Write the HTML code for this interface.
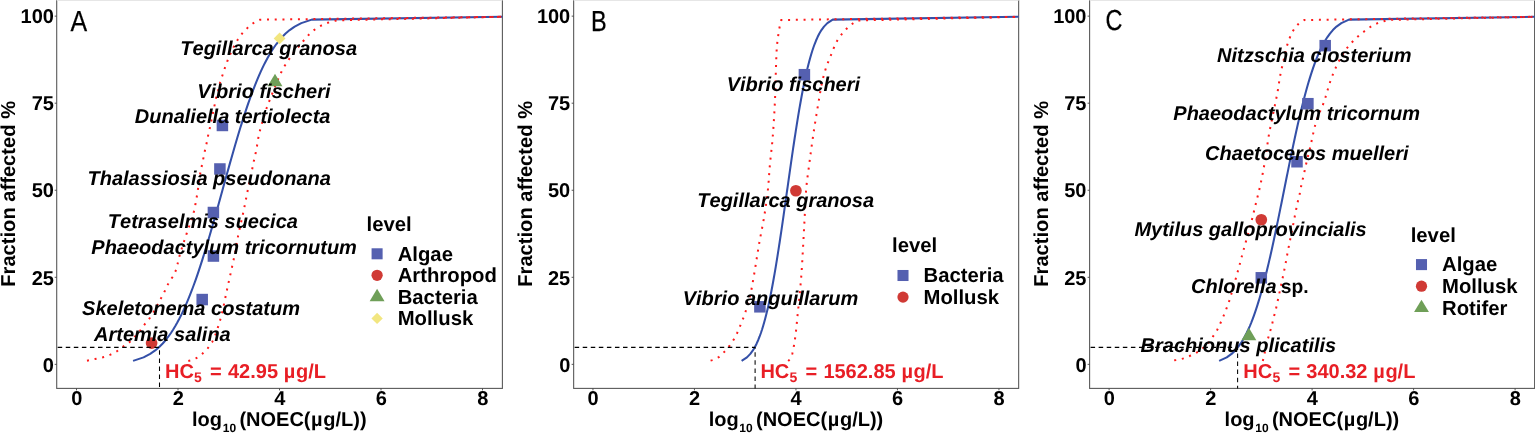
<!DOCTYPE html>
<html lang="en"><head><meta charset="utf-8"><title>Species sensitivity distributions</title>
<style>
html,body{margin:0;padding:0;background:#fff;}
body{width:1535px;height:434px;overflow:hidden;}
svg{display:block;font-family:"Liberation Sans", sans-serif;font-kerning:none;font-variant-ligatures:none;text-rendering:geometricPrecision;}
.b{font-weight:bold;font-size:20px;fill:#000;}
.bi{font-weight:bold;font-style:italic;font-size:20px;fill:#000;}
.lg{font-weight:bold;font-size:20.3px;fill:#000;}
.tk{font-weight:bold;font-size:20px;fill:#000;}
.hc{font-weight:bold;font-size:20px;fill:#E81E25;}
.lt{font-size:29px;fill:#000;stroke:#000;stroke-width:0.25px;}
</style></head><body>
<svg width="1535" height="434" viewBox="0 0 1535 434" role="img" aria-label="Species sensitivity distribution curves, panels A, B and C">
<rect width="1535" height="434" fill="#fff"/>
<g>
<rect x="56.70" y="-1" width="445.70" height="389.40" fill="#fff" stroke="#5a5a5a" stroke-width="1.1"/>
<line x1="56.70" y1="0.5" x2="502.40" y2="0.5" stroke="#e6e6e6" stroke-width="1"/>
<line x1="54.70" y1="364.35" x2="56.70" y2="364.35" stroke="#444" stroke-width="0.9"/>
<text class="tk" x="53.90" y="371.55" text-anchor="end">0</text>
<line x1="54.70" y1="277.30" x2="56.70" y2="277.30" stroke="#444" stroke-width="0.9"/>
<text class="tk" x="53.90" y="284.50" text-anchor="end">25</text>
<line x1="54.70" y1="190.25" x2="56.70" y2="190.25" stroke="#444" stroke-width="0.9"/>
<text class="tk" x="53.90" y="197.45" text-anchor="end">50</text>
<line x1="54.70" y1="103.20" x2="56.70" y2="103.20" stroke="#444" stroke-width="0.9"/>
<text class="tk" x="53.90" y="110.40" text-anchor="end">75</text>
<line x1="54.70" y1="16.15" x2="56.70" y2="16.15" stroke="#444" stroke-width="0.9"/>
<text class="tk" x="53.90" y="23.35" text-anchor="end">100</text>
<line x1="76.50" y1="388.4" x2="76.50" y2="390.4" stroke="#444" stroke-width="0.9"/>
<text class="tk" x="76.70" y="404.90" text-anchor="middle">0</text>
<line x1="178.00" y1="388.4" x2="178.00" y2="390.4" stroke="#444" stroke-width="0.9"/>
<text class="tk" x="178.20" y="404.90" text-anchor="middle">2</text>
<line x1="279.50" y1="388.4" x2="279.50" y2="390.4" stroke="#444" stroke-width="0.9"/>
<text class="tk" x="279.70" y="404.90" text-anchor="middle">4</text>
<line x1="381.00" y1="388.4" x2="381.00" y2="390.4" stroke="#444" stroke-width="0.9"/>
<text class="tk" x="381.20" y="404.90" text-anchor="middle">6</text>
<line x1="482.50" y1="388.4" x2="482.50" y2="390.4" stroke="#444" stroke-width="0.9"/>
<text class="tk" x="482.70" y="404.90" text-anchor="middle">8</text>
<text class="b" x="192.05" y="425.7">log<tspan font-size="12px" dy="6.2" dx="0.7">10</tspan><tspan dy="-6.2" dx="3.3">(NOEC(</tspan><tspan dx="0.6">µ</tspan><tspan dx="0.7">g/L))</tspan></text>
<text class="b" style="font-size:20.15px" transform="translate(14.70,193.85) rotate(-90)" text-anchor="middle">Fraction affected %</text>
<path d="M133.07,360.87 L143.55,357.39 L150.19,353.90 L155.19,350.42 L159.25,346.94 L162.71,343.46 L165.74,339.98 L168.46,336.49 L170.93,333.01 L173.21,329.53 L175.32,326.05 L177.30,322.57 L179.17,319.08 L180.93,315.60 L182.62,312.12 L184.23,308.64 L185.78,305.16 L187.27,301.67 L188.71,298.19 L190.10,294.71 L191.46,291.23 L192.77,287.75 L194.05,284.26 L195.30,280.78 L196.52,277.30 L197.72,273.82 L198.89,270.34 L200.04,266.85 L201.17,263.37 L202.29,259.89 L203.38,256.41 L204.47,252.93 L205.53,249.44 L206.59,245.96 L207.63,242.48 L208.66,239.00 L209.68,235.52 L210.70,232.03 L211.70,228.55 L212.70,225.07 L213.69,221.59 L214.68,218.11 L215.66,214.62 L216.63,211.14 L217.60,207.66 L218.57,204.18 L219.54,200.70 L220.50,197.21 L221.47,193.73 L222.43,190.25 L223.39,186.77 L224.36,183.29 L225.32,179.80 L226.29,176.32 L227.26,172.84 L228.23,169.36 L229.20,165.88 L230.18,162.39 L231.17,158.91 L232.16,155.43 L233.16,151.95 L234.16,148.47 L235.18,144.98 L236.20,141.50 L237.23,138.02 L238.27,134.54 L239.33,131.06 L240.39,127.57 L241.48,124.09 L242.57,120.61 L243.69,117.13 L244.82,113.65 L245.97,110.16 L247.14,106.68 L248.34,103.20 L249.56,99.72 L250.81,96.24 L252.09,92.75 L253.40,89.27 L254.76,85.79 L256.15,82.31 L257.59,78.83 L259.08,75.34 L260.63,71.86 L262.24,68.38 L263.93,64.90 L265.69,61.42 L267.56,57.93 L269.54,54.45 L271.65,50.97 L273.93,47.49 L276.40,44.01 L279.12,40.52 L282.15,37.04 L285.61,33.56 L289.67,30.08 L294.67,26.60 L301.31,23.11 L311.79,19.63 L502.40,16.80" fill="none" stroke="#3450A8" stroke-width="2.05" stroke-linejoin="round" stroke-linecap="butt"/>
<path d="M87.00,360.70 L88.98,360.28 L90.96,359.87 L92.95,359.45 L94.93,359.03 L96.92,358.64 L98.91,358.24 L100.89,357.82 L102.84,357.33 L104.79,356.75 L106.71,356.10 L108.61,355.39 L110.48,354.63 L112.32,353.78 L114.14,352.85 L115.90,351.86 L117.60,350.78 L119.22,349.58 L120.82,348.32 L122.44,347.09 L124.11,345.94 L125.82,344.83 L127.51,343.70 L129.11,342.49 L130.61,341.15 L132.04,339.71 L133.44,338.23 L134.82,336.75 L136.21,335.27 L137.58,333.77 L138.90,332.24 L140.15,330.65 L141.32,329.00 L142.45,327.32 L143.61,325.66 L144.85,324.05 L146.16,322.51 L147.48,320.97 L148.76,319.40 L149.93,317.76 L151.05,316.07 L152.12,314.34 L153.17,312.61 L154.21,310.87 L155.23,309.12 L156.22,307.35 L157.20,305.58 L158.16,303.80 L159.09,302.00 L160.02,300.20 L160.95,298.40 L161.90,296.61 L162.85,294.82 L163.78,293.02 L164.69,291.21 L165.54,289.38 L166.38,287.53 L167.25,285.70 L168.18,283.91 L169.22,282.15 L170.31,280.42 L171.43,278.69 L172.53,276.97 L173.58,275.23 L174.53,273.46 L175.35,271.65 L176.02,269.78 L176.60,267.87 L177.11,265.92 L177.58,263.94 L178.04,261.95 L178.49,259.95 L178.97,257.97 L179.50,256.01 L180.06,254.06 L180.64,252.12 L181.24,250.19 L181.85,248.26 L182.46,246.33 L183.09,244.40 L183.72,242.48 L184.36,240.55 L184.99,238.63 L185.62,236.70 L186.25,234.78 L186.88,232.85 L187.53,230.93 L188.19,229.01 L188.87,227.10 L189.56,225.18 L190.24,223.27 L190.91,221.35 L191.56,219.43 L192.19,217.50 L192.78,215.57 L193.33,213.63 L193.84,211.68 L194.29,209.72 L194.72,207.75 L195.13,205.77 L195.51,203.79 L195.88,201.79 L196.24,199.79 L196.58,197.79 L196.91,195.79 L197.24,193.79 L197.56,191.78 L197.88,189.78 L198.19,187.78 L198.48,185.78 L198.75,183.77 L199.02,181.76 L199.29,179.75 L199.57,177.74 L199.87,175.74 L200.19,173.75 L200.57,171.76 L200.98,169.77 L201.41,167.79 L201.82,165.81 L202.23,163.83 L202.64,161.84 L203.04,159.86 L203.45,157.87 L203.84,155.89 L204.23,153.90 L204.63,151.91 L205.06,149.94 L205.52,147.96 L205.99,145.99 L206.44,144.02 L206.86,142.04 L207.24,140.05 L207.61,138.06 L208.00,136.07 L208.42,134.09 L208.87,132.11 L209.32,130.14 L209.76,128.16 L210.19,126.18 L210.62,124.20 L211.04,122.22 L211.46,120.24 L211.87,118.26 L212.29,116.28 L212.70,114.29 L213.11,112.31 L213.52,110.33 L213.93,108.34 L214.34,106.36 L214.75,104.38 L215.14,102.39 L215.53,100.40 L215.96,98.42 L216.44,96.46 L216.98,94.51 L217.56,92.56 L218.11,90.61 L218.61,88.65 L219.07,86.68 L219.53,84.71 L220.03,82.75 L220.61,80.81 L221.24,78.88 L221.90,76.97 L222.55,75.05 L223.18,73.12 L223.80,71.19 L224.44,69.27 L225.09,67.35 L225.76,65.44 L226.44,63.53 L227.15,61.64 L227.90,59.76 L228.67,57.89 L229.48,56.03 L230.30,54.17 L231.13,52.33 L231.97,50.48 L232.83,48.65 L233.73,46.83 L234.67,45.04 L235.64,43.26 L236.65,41.50 L237.71,39.78 L238.82,38.09 L239.97,36.42 L241.18,34.78 L242.44,33.21 L243.77,31.68 L245.16,30.20 L246.59,28.76 L248.07,27.38 L249.58,26.02 L251.14,24.71 L252.76,23.49 L254.44,22.41 L256.20,21.42 L258.02,20.51 L259.90,19.70 L502.40,16.80" fill="none" stroke="#FF1A1A" stroke-width="2.0" stroke-linecap="butt" stroke-dasharray="2.0 5.74"/>
<path d="M188.30,361.00 L190.25,360.53 L192.14,359.94 L193.95,359.25 L195.69,358.47 L197.37,357.52 L199.01,356.43 L200.60,355.21 L202.13,353.92 L203.58,352.59 L204.96,351.25 L206.31,349.84 L207.63,348.36 L208.90,346.82 L210.10,345.23 L211.21,343.60 L212.20,341.94 L213.09,340.25 L213.90,338.51 L214.66,336.71 L215.37,334.88 L216.05,333.01 L216.69,331.14 L217.31,329.25 L217.92,327.38 L218.51,325.52 L219.10,323.65 L219.66,321.78 L220.20,319.89 L220.73,318.00 L221.24,316.11 L221.73,314.21 L222.20,312.31 L222.66,310.41 L223.09,308.51 L223.51,306.60 L223.91,304.68 L224.31,302.76 L224.69,300.84 L225.08,298.92 L225.47,297.00 L225.86,295.08 L226.26,293.17 L226.68,291.25 L227.10,289.34 L227.52,287.43 L227.94,285.52 L228.36,283.60 L228.79,281.69 L229.21,279.78 L229.64,277.87 L230.06,275.96 L230.48,274.05 L230.90,272.14 L231.32,270.22 L231.75,268.31 L232.17,266.40 L232.60,264.49 L233.02,262.58 L233.43,260.66 L233.83,258.75 L234.23,256.83 L234.62,254.91 L234.99,252.99 L235.35,251.07 L235.70,249.14 L236.05,247.21 L236.40,245.29 L236.74,243.36 L237.09,241.43 L237.44,239.51 L237.80,237.58 L238.17,235.66 L238.55,233.74 L238.95,231.82 L239.36,229.91 L239.78,228.00 L240.21,226.09 L240.64,224.18 L241.08,222.27 L241.52,220.36 L241.95,218.45 L242.39,216.54 L242.81,214.63 L243.23,212.72 L243.64,210.81 L244.04,208.89 L244.43,206.97 L244.82,205.05 L245.20,203.13 L245.58,201.21 L245.95,199.29 L246.33,197.37 L246.71,195.45 L247.09,193.53 L247.47,191.61 L247.86,189.69 L248.25,187.77 L248.65,185.85 L249.05,183.94 L249.46,182.02 L249.86,180.11 L250.27,178.19 L250.68,176.28 L251.09,174.36 L251.49,172.45 L251.90,170.53 L252.30,168.62 L252.70,166.70 L253.09,164.78 L253.48,162.86 L253.87,160.95 L254.28,159.03 L254.72,157.12 L255.18,155.22 L255.62,153.31 L256.02,151.40 L256.38,149.47 L256.73,147.55 L257.06,145.62 L257.39,143.69 L257.69,141.75 L257.99,139.81 L258.31,137.88 L258.67,135.96 L259.09,134.05 L259.56,132.15 L260.06,130.25 L260.56,128.36 L261.07,126.47 L261.60,124.59 L262.12,122.70 L262.66,120.82 L263.22,118.94 L263.78,117.06 L264.35,115.18 L264.94,113.31 L265.53,111.45 L266.15,109.59 L266.77,107.74 L267.42,105.89 L268.10,104.06 L268.82,102.24 L269.55,100.42 L270.27,98.60 L270.99,96.78 L271.70,94.95 L272.42,93.13 L273.14,91.31 L273.86,89.49 L274.58,87.67 L275.32,85.85 L276.06,84.04 L276.81,82.23 L277.57,80.43 L278.35,78.63 L279.14,76.85 L279.94,75.06 L280.77,73.29 L281.63,71.53 L282.52,69.78 L283.44,68.06 L284.40,66.35 L285.40,64.66 L286.43,63.00 L287.52,61.37 L288.64,59.76 L289.78,58.17 L290.94,56.60 L292.11,55.03 L293.29,53.47 L294.48,51.92 L295.69,50.37 L296.90,48.83 L298.13,47.30 L299.36,45.78 L300.61,44.27 L301.86,42.76 L303.12,41.26 L304.38,39.77 L305.65,38.28 L306.92,36.78 L308.23,35.31 L309.58,33.91 L311.00,32.58 L312.49,31.30 L314.04,30.08 L315.62,28.93 L317.25,27.85 L318.92,26.83 L320.64,25.87 L322.39,25.00 L324.17,24.21 L325.99,23.47 L327.84,22.80 L329.70,22.19 L331.57,21.64 L333.47,21.14 L335.37,20.69 L337.30,20.30 L502.40,16.80" fill="none" stroke="#FF1A1A" stroke-width="2.0" stroke-linecap="butt" stroke-dasharray="2.0 5.74"/>
<rect x="216.65" y="119.71" width="11.50" height="11.50" fill="#5560B0"/>
<rect x="214.15" y="163.24" width="11.50" height="11.50" fill="#5560B0"/>
<rect x="207.65" y="206.76" width="11.50" height="11.50" fill="#5560B0"/>
<rect x="207.65" y="250.29" width="11.50" height="11.50" fill="#5560B0"/>
<rect x="196.45" y="293.81" width="11.50" height="11.50" fill="#5560B0"/>
<circle cx="151.60" cy="343.09" r="5.85" fill="#D03A35"/>
<polygon points="275.00,73.84 282.45,86.24 267.55,86.24" fill="#6F9F58"/>
<polygon points="279.60,32.51 285.50,38.41 279.60,44.31 273.70,38.41" fill="#F2E680"/>
<text class="bi" x="180.30" y="54.85">Tegillarca granosa</text>
<text class="bi" x="197.20" y="98.10">Vibrio fischeri</text>
<text class="bi" x="134.80" y="123.30">Dunaliella tertiolecta</text>
<text class="bi" x="87.50" y="184.90">Thalassiosia pseudonana</text>
<text class="bi" x="107.80" y="228.30">Tetraselmis suecica</text>
<text class="bi" x="91.30" y="253.60">Phaeodactylum tricornutum</text>
<text class="bi" x="82.10" y="315.30">Skeletonema costatum</text>
<text class="bi" x="94.00" y="341.00">Artemia salina</text>
<path d="M56.70,347.35 L159.50,347.35 L159.50,388.4" fill="none" stroke="#000" stroke-width="1.05" stroke-dasharray="4.5 3.56" stroke-dashoffset="-1"/>
<text class="hc" x="165.00" y="378.1" xml:space="preserve">HC<tspan font-size="14px" dy="3.6" dx="0.2">5</tspan><tspan dy="-3.6" dx="8.2">=</tspan><tspan dx="6.2">42.95</tspan><tspan dx="5.8">µ</tspan><tspan dx="0.6">g/L</tspan></text>
<text class="lt" transform="translate(70.60,30.5) scale(0.86,1)">A</text>
<text class="lg" x="366.50" y="231.30">level</text>
<rect x="371.58" y="248.28" width="11.04" height="11.04" fill="#5560B0"/>
<text class="lg" x="397.70" y="260.60">Algae</text>
<circle cx="377.10" cy="275.30" r="5.62" fill="#D03A35"/>
<text class="lg" x="397.70" y="282.10">Arthropod</text>
<polygon points="377.10,288.80 384.55,301.20 369.65,301.20" fill="#6F9F58"/>
<text class="lg" x="397.70" y="303.70">Bacteria</text>
<polygon points="377.10,312.74 382.76,318.40 377.10,324.06 371.44,318.40" fill="#F2E680"/>
<text class="lg" x="397.70" y="325.20">Mollusk</text>
</g>
<g>
<rect x="573.65" y="-1" width="445.00" height="389.40" fill="#fff" stroke="#5a5a5a" stroke-width="1.1"/>
<line x1="573.65" y1="0.5" x2="1018.65" y2="0.5" stroke="#e6e6e6" stroke-width="1"/>
<line x1="571.65" y1="364.35" x2="573.65" y2="364.35" stroke="#444" stroke-width="0.9"/>
<text class="tk" x="570.25" y="371.55" text-anchor="end">0</text>
<line x1="571.65" y1="277.30" x2="573.65" y2="277.30" stroke="#444" stroke-width="0.9"/>
<text class="tk" x="570.25" y="284.50" text-anchor="end">25</text>
<line x1="571.65" y1="190.25" x2="573.65" y2="190.25" stroke="#444" stroke-width="0.9"/>
<text class="tk" x="570.25" y="197.45" text-anchor="end">50</text>
<line x1="571.65" y1="103.20" x2="573.65" y2="103.20" stroke="#444" stroke-width="0.9"/>
<text class="tk" x="570.25" y="110.40" text-anchor="end">75</text>
<line x1="571.65" y1="16.15" x2="573.65" y2="16.15" stroke="#444" stroke-width="0.9"/>
<text class="tk" x="570.25" y="23.35" text-anchor="end">100</text>
<line x1="592.95" y1="388.4" x2="592.95" y2="390.4" stroke="#444" stroke-width="0.9"/>
<text class="tk" x="593.15" y="404.90" text-anchor="middle">0</text>
<line x1="694.45" y1="388.4" x2="694.45" y2="390.4" stroke="#444" stroke-width="0.9"/>
<text class="tk" x="694.65" y="404.90" text-anchor="middle">2</text>
<line x1="795.95" y1="388.4" x2="795.95" y2="390.4" stroke="#444" stroke-width="0.9"/>
<text class="tk" x="796.15" y="404.90" text-anchor="middle">4</text>
<line x1="897.45" y1="388.4" x2="897.45" y2="390.4" stroke="#444" stroke-width="0.9"/>
<text class="tk" x="897.65" y="404.90" text-anchor="middle">6</text>
<line x1="998.95" y1="388.4" x2="998.95" y2="390.4" stroke="#444" stroke-width="0.9"/>
<text class="tk" x="999.15" y="404.90" text-anchor="middle">8</text>
<text class="b" x="708.65" y="425.7">log<tspan font-size="12px" dy="6.2" dx="0.7">10</tspan><tspan dy="-6.2" dx="3.3">(NOEC(</tspan><tspan dx="0.6">µ</tspan><tspan dx="0.7">g/L))</tspan></text>
<text class="b" style="font-size:20.15px" transform="translate(531.65,193.85) rotate(-90)" text-anchor="middle">Fraction affected %</text>
<path d="M741.60,360.87 L746.94,357.39 L750.32,353.90 L752.87,350.42 L754.94,346.94 L756.71,343.46 L758.25,339.98 L759.64,336.49 L760.90,333.01 L762.06,329.53 L763.13,326.05 L764.14,322.57 L765.10,319.08 L766.00,315.60 L766.86,312.12 L767.68,308.64 L768.47,305.16 L769.23,301.67 L769.96,298.19 L770.67,294.71 L771.36,291.23 L772.03,287.75 L772.68,284.26 L773.32,280.78 L773.94,277.30 L774.55,273.82 L775.15,270.34 L775.74,266.85 L776.31,263.37 L776.88,259.89 L777.44,256.41 L777.99,252.93 L778.54,249.44 L779.07,245.96 L779.61,242.48 L780.13,239.00 L780.65,235.52 L781.17,232.03 L781.68,228.55 L782.19,225.07 L782.69,221.59 L783.20,218.11 L783.70,214.62 L784.19,211.14 L784.69,207.66 L785.18,204.18 L785.68,200.70 L786.17,197.21 L786.66,193.73 L787.15,190.25 L787.64,186.77 L788.13,183.29 L788.62,179.80 L789.12,176.32 L789.61,172.84 L790.11,169.36 L790.60,165.88 L791.10,162.39 L791.61,158.91 L792.11,155.43 L792.62,151.95 L793.13,148.47 L793.65,144.98 L794.17,141.50 L794.69,138.02 L795.23,134.54 L795.76,131.06 L796.31,127.57 L796.86,124.09 L797.42,120.61 L797.99,117.13 L798.56,113.65 L799.15,110.16 L799.75,106.68 L800.36,103.20 L800.98,99.72 L801.62,96.24 L802.27,92.75 L802.94,89.27 L803.63,85.79 L804.34,82.31 L805.07,78.83 L805.83,75.34 L806.62,71.86 L807.44,68.38 L808.30,64.90 L809.20,61.42 L810.16,57.93 L811.17,54.45 L812.24,50.97 L813.40,47.49 L814.66,44.01 L816.05,40.52 L817.59,37.04 L819.36,33.56 L821.43,30.08 L823.98,26.60 L827.36,23.11 L832.70,19.63 L1018.65,16.80" fill="none" stroke="#3450A8" stroke-width="2.05" stroke-linejoin="round" stroke-linecap="butt"/>
<path d="M710.60,360.60 L712.39,360.11 L714.11,359.50 L715.76,358.78 L717.32,357.98 L718.80,357.09 L720.20,356.01 L721.55,354.79 L722.83,353.48 L724.07,352.15 L725.28,350.84 L726.47,349.50 L727.63,348.13 L728.78,346.72 L729.89,345.29 L730.96,343.83 L731.99,342.36 L732.97,340.86 L733.90,339.34 L734.77,337.81 L735.60,336.23 L736.38,334.62 L737.14,332.98 L737.86,331.33 L738.57,329.67 L739.27,328.01 L739.96,326.35 L740.65,324.70 L741.33,323.04 L742.00,321.37 L742.66,319.70 L743.31,318.02 L743.93,316.34 L744.54,314.65 L745.12,312.96 L745.68,311.26 L746.22,309.55 L746.75,307.84 L747.27,306.12 L747.77,304.40 L748.27,302.67 L748.74,300.94 L749.20,299.20 L749.65,297.46 L750.07,295.72 L750.48,293.98 L750.87,292.23 L751.24,290.48 L751.59,288.72 L751.92,286.96 L752.25,285.20 L752.56,283.43 L752.87,281.66 L753.18,279.89 L753.48,278.12 L753.78,276.35 L754.08,274.59 L754.39,272.82 L754.69,271.05 L754.98,269.28 L755.27,267.51 L755.56,265.74 L755.84,263.97 L756.12,262.20 L756.41,260.43 L756.69,258.66 L756.97,256.89 L757.25,255.12 L757.53,253.35 L757.82,251.58 L758.11,249.81 L758.40,248.04 L758.70,246.27 L759.00,244.50 L759.31,242.74 L759.63,240.97 L759.96,239.21 L760.29,237.44 L760.62,235.68 L760.96,233.92 L761.31,232.16 L761.65,230.40 L761.99,228.64 L762.33,226.88 L762.66,225.11 L762.99,223.35 L763.31,221.59 L763.63,219.82 L763.94,218.06 L764.23,216.29 L764.51,214.52 L764.79,212.75 L765.06,210.98 L765.34,209.20 L765.61,207.43 L765.87,205.66 L766.13,203.88 L766.39,202.10 L766.64,200.33 L766.88,198.55 L767.11,196.77 L767.33,194.99 L767.55,193.21 L767.75,191.43 L767.93,189.65 L768.11,187.87 L768.27,186.08 L768.42,184.29 L768.57,182.51 L768.70,180.72 L768.83,178.93 L768.96,177.14 L769.09,175.35 L769.21,173.56 L769.34,171.77 L769.48,169.98 L769.62,168.20 L769.76,166.41 L769.92,164.62 L770.09,162.84 L770.27,161.05 L770.45,159.27 L770.64,157.48 L770.83,155.70 L771.03,153.92 L771.22,152.13 L771.42,150.35 L771.61,148.57 L771.80,146.79 L771.99,145.00 L772.17,143.22 L772.34,141.43 L772.50,139.65 L772.65,137.86 L772.79,136.07 L772.93,134.29 L773.06,132.50 L773.19,130.71 L773.31,128.92 L773.44,127.13 L773.56,125.35 L773.68,123.56 L773.80,121.77 L773.91,119.98 L774.02,118.19 L774.13,116.40 L774.24,114.60 L774.34,112.81 L774.44,111.02 L774.54,109.23 L774.63,107.44 L774.72,105.65 L774.80,103.86 L774.89,102.07 L774.97,100.28 L775.04,98.48 L775.11,96.69 L775.18,94.90 L775.24,93.11 L775.30,91.32 L775.35,89.52 L775.41,87.73 L775.46,85.94 L775.51,84.15 L775.55,82.35 L775.60,80.56 L775.65,78.77 L775.70,76.98 L775.74,75.18 L775.79,73.39 L775.85,71.60 L775.90,69.81 L775.96,68.01 L776.02,66.22 L776.08,64.43 L776.14,62.63 L776.20,60.84 L776.26,59.05 L776.33,57.25 L776.40,55.46 L776.48,53.67 L776.57,51.88 L776.66,50.09 L776.78,48.31 L776.91,46.52 L777.07,44.74 L777.26,42.95 L777.46,41.16 L777.68,39.38 L777.92,37.60 L778.17,35.82 L778.44,34.04 L778.71,32.27 L779.00,30.50 L779.30,28.73 L779.61,26.98 L779.98,25.22 L780.39,23.48 L780.84,21.74 L781.30,20.00 L1018.65,16.80" fill="none" stroke="#FF1A1A" stroke-width="2.0" stroke-linecap="butt" stroke-dasharray="2.0 5.74"/>
<path d="M788.20,361.00 L789.52,359.69 L790.62,358.29 L791.34,356.78 L791.91,355.14 L792.38,353.40 L792.78,351.62 L793.14,349.82 L793.49,348.05 L793.82,346.31 L794.14,344.55 L794.43,342.79 L794.71,341.03 L794.97,339.26 L795.21,337.49 L795.45,335.72 L795.67,333.95 L795.88,332.18 L796.08,330.41 L796.27,328.63 L796.45,326.86 L796.62,325.08 L796.79,323.31 L796.96,321.53 L797.13,319.76 L797.30,317.98 L797.48,316.20 L797.66,314.43 L797.84,312.65 L798.02,310.88 L798.20,309.11 L798.39,307.33 L798.57,305.56 L798.75,303.78 L798.93,302.01 L799.10,300.23 L799.28,298.46 L799.45,296.68 L799.62,294.90 L799.79,293.13 L799.95,291.35 L800.12,289.58 L800.28,287.80 L800.44,286.02 L800.60,284.25 L800.76,282.47 L800.91,280.69 L801.06,278.91 L801.20,277.14 L801.34,275.36 L801.47,273.58 L801.59,271.80 L801.71,270.02 L801.83,268.24 L801.94,266.46 L802.05,264.68 L802.16,262.90 L802.26,261.12 L802.37,259.34 L802.47,257.56 L802.57,255.78 L802.67,253.99 L802.77,252.21 L802.87,250.43 L802.97,248.65 L803.07,246.87 L803.17,245.09 L803.27,243.31 L803.37,241.53 L803.46,239.75 L803.56,237.96 L803.66,236.18 L803.75,234.40 L803.85,232.62 L803.94,230.84 L804.04,229.06 L804.13,227.28 L804.22,225.49 L804.32,223.71 L804.41,221.93 L804.50,220.15 L804.60,218.37 L804.69,216.59 L804.79,214.81 L804.88,213.02 L804.97,211.24 L805.06,209.46 L805.15,207.68 L805.23,205.89 L805.32,204.11 L805.40,202.33 L805.49,200.55 L805.59,198.76 L805.68,196.98 L805.78,195.20 L805.89,193.42 L806.01,191.64 L806.14,189.87 L806.27,188.09 L806.43,186.32 L806.61,184.54 L806.80,182.77 L807.01,181.00 L807.23,179.23 L807.45,177.46 L807.69,175.69 L807.93,173.92 L808.17,172.15 L808.42,170.38 L808.66,168.61 L808.89,166.84 L809.12,165.08 L809.35,163.31 L809.58,161.54 L809.81,159.77 L810.04,158.00 L810.28,156.23 L810.51,154.46 L810.75,152.69 L810.99,150.93 L811.23,149.16 L811.47,147.39 L811.72,145.62 L811.97,143.86 L812.22,142.09 L812.47,140.33 L812.73,138.56 L812.98,136.80 L813.24,135.03 L813.51,133.27 L813.77,131.50 L814.04,129.74 L814.31,127.98 L814.59,126.22 L814.86,124.45 L815.14,122.69 L815.42,120.93 L815.70,119.17 L815.99,117.41 L816.28,115.65 L816.56,113.88 L816.85,112.12 L817.14,110.36 L817.44,108.60 L817.73,106.85 L818.03,105.09 L818.32,103.33 L818.62,101.57 L818.92,99.81 L819.22,98.05 L819.52,96.29 L819.82,94.53 L820.11,92.77 L820.41,91.01 L820.71,89.25 L821.03,87.50 L821.36,85.75 L821.72,84.00 L822.10,82.26 L822.50,80.52 L822.91,78.78 L823.35,77.05 L823.80,75.32 L824.27,73.60 L824.76,71.88 L825.27,70.17 L825.80,68.48 L826.36,66.79 L826.96,65.11 L827.59,63.44 L828.25,61.78 L828.92,60.12 L829.59,58.47 L830.28,56.82 L830.95,55.17 L831.62,53.51 L832.28,51.84 L832.94,50.16 L833.61,48.49 L834.30,46.83 L835.00,45.19 L835.74,43.56 L836.52,41.97 L837.34,40.41 L838.22,38.90 L839.22,37.42 L840.30,35.99 L841.42,34.58 L842.56,33.21 L843.71,31.85 L844.90,30.50 L846.13,29.19 L847.39,27.94 L848.70,26.76 L850.05,25.62 L851.44,24.51 L852.87,23.44 L854.34,22.41 L855.85,21.43 L857.40,20.50 L1018.65,16.80" fill="none" stroke="#FF1A1A" stroke-width="2.0" stroke-linecap="butt" stroke-dasharray="2.0 5.74"/>
<rect x="798.65" y="68.94" width="11.50" height="11.50" fill="#5560B0"/>
<circle cx="795.90" cy="190.75" r="5.85" fill="#D03A35"/>
<rect x="754.15" y="301.06" width="11.50" height="11.50" fill="#5560B0"/>
<text class="bi" x="726.70" y="90.90">Vibrio fischeri</text>
<text class="bi" x="697.30" y="207.30">Tegillarca granosa</text>
<text class="bi" x="682.70" y="304.70">Vibrio anguillarum</text>
<path d="M573.65,347.35 L755.10,347.35 L755.10,388.4" fill="none" stroke="#000" stroke-width="1.05" stroke-dasharray="4.5 3.56" stroke-dashoffset="-1"/>
<text class="hc" x="760.40" y="378.1" xml:space="preserve">HC<tspan font-size="14px" dy="3.6" dx="0.2">5</tspan><tspan dy="-3.6" dx="8.2">=</tspan><tspan dx="6.2">1562.85</tspan><tspan dx="5.8">µ</tspan><tspan dx="0.6">g/L</tspan></text>
<text class="lt" transform="translate(590.95,30.5) scale(0.81,1)">B</text>
<text class="lg" x="892.10" y="252.00">level</text>
<rect x="897.48" y="269.98" width="11.04" height="11.04" fill="#5560B0"/>
<text class="lg" x="923.50" y="282.30">Bacteria</text>
<circle cx="903.00" cy="297.10" r="5.62" fill="#D03A35"/>
<text class="lg" x="923.50" y="303.90">Mollusk</text>
</g>
<g>
<rect x="1089.60" y="-1" width="445.00" height="389.40" fill="#fff" stroke="#5a5a5a" stroke-width="1.1"/>
<line x1="1089.60" y1="0.5" x2="1534.60" y2="0.5" stroke="#e6e6e6" stroke-width="1"/>
<line x1="1087.60" y1="364.35" x2="1089.60" y2="364.35" stroke="#444" stroke-width="0.9"/>
<text class="tk" x="1086.50" y="371.55" text-anchor="end">0</text>
<line x1="1087.60" y1="277.30" x2="1089.60" y2="277.30" stroke="#444" stroke-width="0.9"/>
<text class="tk" x="1086.50" y="284.50" text-anchor="end">25</text>
<line x1="1087.60" y1="190.25" x2="1089.60" y2="190.25" stroke="#444" stroke-width="0.9"/>
<text class="tk" x="1086.50" y="197.45" text-anchor="end">50</text>
<line x1="1087.60" y1="103.20" x2="1089.60" y2="103.20" stroke="#444" stroke-width="0.9"/>
<text class="tk" x="1086.50" y="110.40" text-anchor="end">75</text>
<line x1="1087.60" y1="16.15" x2="1089.60" y2="16.15" stroke="#444" stroke-width="0.9"/>
<text class="tk" x="1086.50" y="23.35" text-anchor="end">100</text>
<line x1="1109.10" y1="388.4" x2="1109.10" y2="390.4" stroke="#444" stroke-width="0.9"/>
<text class="tk" x="1109.30" y="404.90" text-anchor="middle">0</text>
<line x1="1210.60" y1="388.4" x2="1210.60" y2="390.4" stroke="#444" stroke-width="0.9"/>
<text class="tk" x="1210.80" y="404.90" text-anchor="middle">2</text>
<line x1="1312.10" y1="388.4" x2="1312.10" y2="390.4" stroke="#444" stroke-width="0.9"/>
<text class="tk" x="1312.30" y="404.90" text-anchor="middle">4</text>
<line x1="1413.60" y1="388.4" x2="1413.60" y2="390.4" stroke="#444" stroke-width="0.9"/>
<text class="tk" x="1413.80" y="404.90" text-anchor="middle">6</text>
<line x1="1515.10" y1="388.4" x2="1515.10" y2="390.4" stroke="#444" stroke-width="0.9"/>
<text class="tk" x="1515.30" y="404.90" text-anchor="middle">8</text>
<text class="b" x="1224.60" y="425.7">log<tspan font-size="12px" dy="6.2" dx="0.7">10</tspan><tspan dy="-6.2" dx="3.3">(NOEC(</tspan><tspan dx="0.6">µ</tspan><tspan dx="0.7">g/L))</tspan></text>
<text class="b" style="font-size:20.15px" transform="translate(1047.60,193.85) rotate(-90)" text-anchor="middle">Fraction affected %</text>
<path d="M1219.14,360.87 L1226.75,357.39 L1231.58,353.90 L1235.21,350.42 L1238.16,346.94 L1240.67,343.46 L1242.88,339.98 L1244.85,336.49 L1246.64,333.01 L1248.29,329.53 L1249.83,326.05 L1251.27,322.57 L1252.62,319.08 L1253.91,315.60 L1255.13,312.12 L1256.30,308.64 L1257.43,305.16 L1258.51,301.67 L1259.56,298.19 L1260.57,294.71 L1261.55,291.23 L1262.51,287.75 L1263.44,284.26 L1264.34,280.78 L1265.23,277.30 L1266.10,273.82 L1266.95,270.34 L1267.79,266.85 L1268.61,263.37 L1269.42,259.89 L1270.22,256.41 L1271.00,252.93 L1271.78,249.44 L1272.54,245.96 L1273.30,242.48 L1274.05,239.00 L1274.79,235.52 L1275.53,232.03 L1276.26,228.55 L1276.98,225.07 L1277.70,221.59 L1278.42,218.11 L1279.13,214.62 L1279.84,211.14 L1280.54,207.66 L1281.25,204.18 L1281.95,200.70 L1282.65,197.21 L1283.35,193.73 L1284.05,190.25 L1284.75,186.77 L1285.45,183.29 L1286.15,179.80 L1286.85,176.32 L1287.56,172.84 L1288.26,169.36 L1288.97,165.88 L1289.68,162.39 L1290.40,158.91 L1291.12,155.43 L1291.84,151.95 L1292.57,148.47 L1293.31,144.98 L1294.05,141.50 L1294.80,138.02 L1295.56,134.54 L1296.32,131.06 L1297.10,127.57 L1297.88,124.09 L1298.68,120.61 L1299.49,117.13 L1300.31,113.65 L1301.15,110.16 L1302.00,106.68 L1302.87,103.20 L1303.76,99.72 L1304.66,96.24 L1305.59,92.75 L1306.55,89.27 L1307.53,85.79 L1308.54,82.31 L1309.59,78.83 L1310.67,75.34 L1311.80,71.86 L1312.97,68.38 L1314.19,64.90 L1315.48,61.42 L1316.83,57.93 L1318.27,54.45 L1319.81,50.97 L1321.46,47.49 L1323.25,44.01 L1325.22,40.52 L1327.43,37.04 L1329.94,33.56 L1332.89,30.08 L1336.52,26.60 L1341.35,23.11 L1348.96,19.63 L1534.60,16.80" fill="none" stroke="#3450A8" stroke-width="2.05" stroke-linejoin="round" stroke-linecap="butt"/>
<path d="M1174.20,360.20 L1176.11,359.98 L1178.01,359.68 L1179.88,359.31 L1181.73,358.89 L1183.55,358.38 L1185.35,357.73 L1187.14,357.02 L1188.91,356.28 L1190.67,355.54 L1192.43,354.77 L1194.15,353.94 L1195.83,353.05 L1197.46,352.07 L1199.04,350.99 L1200.58,349.85 L1202.09,348.68 L1203.60,347.49 L1205.09,346.27 L1206.52,345.00 L1207.84,343.65 L1209.05,342.20 L1210.16,340.65 L1211.24,339.05 L1212.30,337.44 L1213.38,335.87 L1214.47,334.29 L1215.53,332.70 L1216.53,331.07 L1217.44,329.41 L1218.30,327.70 L1219.11,325.97 L1219.91,324.23 L1220.71,322.49 L1221.50,320.76 L1222.28,319.01 L1223.04,317.26 L1223.77,315.49 L1224.48,313.72 L1225.18,311.94 L1225.86,310.16 L1226.54,308.37 L1227.22,306.59 L1227.90,304.80 L1228.55,303.01 L1229.16,301.20 L1229.74,299.38 L1230.28,297.55 L1230.82,295.71 L1231.34,293.88 L1231.88,292.04 L1232.42,290.21 L1232.95,288.38 L1233.49,286.54 L1234.02,284.71 L1234.55,282.87 L1235.08,281.04 L1235.61,279.20 L1236.13,277.36 L1236.65,275.53 L1237.17,273.69 L1237.69,271.85 L1238.20,270.01 L1238.70,268.17 L1239.20,266.32 L1239.69,264.48 L1240.18,262.63 L1240.67,260.78 L1241.15,258.94 L1241.64,257.09 L1242.12,255.24 L1242.61,253.40 L1243.11,251.55 L1243.61,249.71 L1244.11,247.87 L1244.63,246.03 L1245.15,244.19 L1245.68,242.35 L1246.21,240.52 L1246.74,238.68 L1247.27,236.85 L1247.80,235.01 L1248.32,233.18 L1248.84,231.34 L1249.35,229.50 L1249.86,227.66 L1250.35,225.81 L1250.83,223.96 L1251.31,222.11 L1251.78,220.26 L1252.24,218.41 L1252.70,216.56 L1253.16,214.70 L1253.61,212.85 L1254.07,210.99 L1254.52,209.13 L1254.96,207.28 L1255.41,205.42 L1255.86,203.56 L1256.32,201.71 L1256.77,199.85 L1257.23,198.00 L1257.69,196.14 L1258.15,194.29 L1258.60,192.43 L1259.05,190.58 L1259.50,188.72 L1259.93,186.86 L1260.35,185.00 L1260.76,183.13 L1261.15,181.26 L1261.54,179.39 L1261.92,177.52 L1262.29,175.65 L1262.66,173.77 L1263.02,171.90 L1263.37,170.02 L1263.71,168.14 L1264.05,166.26 L1264.39,164.38 L1264.71,162.50 L1265.03,160.61 L1265.34,158.73 L1265.65,156.84 L1265.93,154.96 L1266.21,153.07 L1266.48,151.17 L1266.74,149.28 L1267.00,147.39 L1267.26,145.50 L1267.53,143.60 L1267.80,141.71 L1268.08,139.82 L1268.38,137.94 L1268.69,136.06 L1269.02,134.18 L1269.36,132.30 L1269.72,130.42 L1270.09,128.55 L1270.47,126.68 L1270.85,124.80 L1271.24,122.93 L1271.63,121.06 L1272.02,119.19 L1272.42,117.32 L1272.80,115.45 L1273.18,113.58 L1273.56,111.71 L1273.94,109.84 L1274.33,107.96 L1274.72,106.09 L1275.10,104.22 L1275.49,102.35 L1275.88,100.48 L1276.26,98.61 L1276.63,96.74 L1277.00,94.86 L1277.36,92.99 L1277.70,91.11 L1278.03,89.23 L1278.34,87.34 L1278.64,85.46 L1278.92,83.57 L1279.20,81.68 L1279.49,79.79 L1279.80,77.90 L1280.12,76.02 L1280.48,74.15 L1280.86,72.28 L1281.26,70.41 L1281.68,68.55 L1282.11,66.68 L1282.54,64.82 L1282.98,62.96 L1283.42,61.10 L1283.85,59.24 L1284.27,57.37 L1284.68,55.50 L1285.09,53.63 L1285.51,51.76 L1285.94,49.89 L1286.40,48.04 L1286.89,46.20 L1287.42,44.38 L1288.00,42.57 L1288.62,40.76 L1289.30,38.95 L1290.02,37.16 L1290.80,35.39 L1291.62,33.65 L1292.49,31.96 L1293.41,30.32 L1294.41,28.72 L1295.54,27.14 L1296.78,25.64 L1298.10,24.26 L1299.49,23.03 L1301.02,21.92 L1302.66,20.90 L1304.40,20.00 L1534.60,16.80" fill="none" stroke="#FF1A1A" stroke-width="2.0" stroke-linecap="butt" stroke-dasharray="2.0 5.74"/>
<path d="M1262.80,361.00 L1263.23,359.15 L1263.66,357.31 L1264.08,355.46 L1264.51,353.61 L1264.93,351.76 L1265.36,349.91 L1265.77,348.06 L1266.17,346.21 L1266.58,344.36 L1267.01,342.51 L1267.46,340.67 L1267.94,338.84 L1268.46,337.01 L1268.98,335.19 L1269.51,333.37 L1270.05,331.55 L1270.60,329.73 L1271.14,327.92 L1271.65,326.09 L1272.11,324.25 L1272.53,322.40 L1272.94,320.55 L1273.37,318.71 L1273.85,316.87 L1274.36,315.05 L1274.88,313.22 L1275.38,311.39 L1275.82,309.55 L1276.23,307.70 L1276.63,305.84 L1277.03,303.99 L1277.43,302.14 L1277.83,300.28 L1278.23,298.43 L1278.63,296.58 L1279.03,294.72 L1279.43,292.87 L1279.83,291.02 L1280.23,289.16 L1280.63,287.31 L1281.03,285.46 L1281.43,283.60 L1281.84,281.75 L1282.23,279.90 L1282.63,278.04 L1283.02,276.19 L1283.41,274.33 L1283.80,272.47 L1284.18,270.62 L1284.55,268.76 L1284.91,266.90 L1285.27,265.04 L1285.63,263.17 L1285.98,261.31 L1286.33,259.45 L1286.67,257.58 L1287.02,255.72 L1287.37,253.85 L1287.72,251.99 L1288.08,250.13 L1288.44,248.27 L1288.81,246.41 L1289.18,244.55 L1289.55,242.69 L1289.92,240.83 L1290.29,238.97 L1290.66,237.11 L1291.04,235.25 L1291.41,233.39 L1291.79,231.53 L1292.16,229.68 L1292.54,227.82 L1292.91,225.96 L1293.28,224.10 L1293.64,222.24 L1294.00,220.37 L1294.36,218.51 L1294.71,216.65 L1295.07,214.79 L1295.44,212.92 L1295.80,211.06 L1296.18,209.20 L1296.56,207.35 L1296.95,205.49 L1297.36,203.64 L1297.78,201.80 L1298.25,199.96 L1298.72,198.12 L1299.18,196.28 L1299.59,194.43 L1299.96,192.57 L1300.31,190.71 L1300.65,188.84 L1301.00,186.98 L1301.37,185.12 L1301.78,183.27 L1302.22,181.42 L1302.66,179.58 L1303.11,177.74 L1303.54,175.89 L1303.96,174.04 L1304.35,172.18 L1304.74,170.33 L1305.13,168.47 L1305.53,166.62 L1305.94,164.77 L1306.37,162.92 L1306.81,161.08 L1307.26,159.24 L1307.71,157.39 L1308.16,155.55 L1308.62,153.71 L1309.08,151.87 L1309.54,150.03 L1309.99,148.19 L1310.42,146.34 L1310.83,144.49 L1311.23,142.64 L1311.63,140.79 L1312.03,138.93 L1312.44,137.08 L1312.84,135.23 L1313.24,133.37 L1313.64,131.52 L1314.07,129.67 L1314.51,127.83 L1314.97,125.99 L1315.45,124.15 L1315.95,122.32 L1316.50,120.51 L1317.09,118.72 L1317.75,116.95 L1318.45,115.18 L1319.18,113.43 L1319.94,111.69 L1320.71,109.95 L1321.48,108.21 L1322.23,106.46 L1322.96,104.71 L1323.66,102.94 L1324.31,101.17 L1324.90,99.37 L1325.44,97.56 L1325.95,95.73 L1326.45,93.90 L1326.97,92.07 L1327.52,90.26 L1328.07,88.44 L1328.63,86.63 L1329.19,84.81 L1329.77,83.01 L1330.37,81.21 L1330.99,79.42 L1331.64,77.64 L1332.32,75.87 L1333.01,74.11 L1333.73,72.35 L1334.47,70.60 L1335.23,68.85 L1336.02,67.12 L1336.82,65.41 L1337.65,63.71 L1338.49,62.02 L1339.36,60.33 L1340.26,58.64 L1341.18,56.97 L1342.13,55.31 L1343.12,53.68 L1344.13,52.08 L1345.18,50.52 L1346.27,49.00 L1347.41,47.50 L1348.61,46.04 L1349.85,44.59 L1351.13,43.17 L1352.45,41.79 L1353.79,40.43 L1355.15,39.10 L1356.51,37.80 L1357.91,36.53 L1359.34,35.30 L1360.80,34.08 L1362.29,32.90 L1363.80,31.73 L1365.32,30.59 L1366.86,29.47 L1368.40,28.37 L1369.95,27.25 L1371.52,26.17 L1373.13,25.16 L1374.80,24.31 L1376.53,23.58 L1378.32,22.93 L1380.13,22.34 L1381.95,21.78 L1383.77,21.26 L1385.60,20.77 L1387.44,20.31 L1389.30,19.90 L1534.60,16.80" fill="none" stroke="#FF1A1A" stroke-width="2.0" stroke-linecap="butt" stroke-dasharray="2.0 5.74"/>
<rect x="1319.45" y="39.91" width="11.50" height="11.50" fill="#5560B0"/>
<rect x="1302.15" y="97.95" width="11.50" height="11.50" fill="#5560B0"/>
<rect x="1291.25" y="155.99" width="11.50" height="11.50" fill="#5560B0"/>
<circle cx="1261.30" cy="219.76" r="5.85" fill="#D03A35"/>
<rect x="1255.55" y="272.05" width="11.50" height="11.50" fill="#5560B0"/>
<polygon points="1248.90,327.74 1256.35,340.14 1241.45,340.14" fill="#6F9F58"/>
<text class="bi" x="1217.10" y="61.90">Nitzschia closterium</text>
<text class="bi" x="1173.30" y="119.70">Phaeodactylum tricornum</text>
<text class="bi" x="1205.10" y="159.90">Chaetoceros muelleri</text>
<text class="bi" x="1134.40" y="236.00">Mytilus galloprovincialis</text>
<text class="bi" x="1191.00" y="293.40" xml:space="preserve">Chlorella<tspan font-style="normal" style="font-size:19.3px" dx="-1.2"> sp.</tspan></text>
<text class="bi" x="1140.60" y="351.80">Brachionus plicatilis</text>
<path d="M1089.60,347.35 L1237.60,347.35 L1237.60,388.4" fill="none" stroke="#000" stroke-width="1.05" stroke-dasharray="4.5 3.56" stroke-dashoffset="-1"/>
<text class="hc" x="1243.30" y="378.1" xml:space="preserve">HC<tspan font-size="14px" dy="3.6" dx="0.2">5</tspan><tspan dy="-3.6" dx="8.2">=</tspan><tspan dx="6.2">340.32</tspan><tspan dx="5.8">µ</tspan><tspan dx="0.6">g/L</tspan></text>
<text class="lt" transform="translate(1105.50,30.0) scale(0.81,1)">C</text>
<text class="lg" x="1410.70" y="241.50">level</text>
<rect x="1415.98" y="259.08" width="11.04" height="11.04" fill="#5560B0"/>
<text class="lg" x="1442.00" y="271.40">Algae</text>
<circle cx="1421.50" cy="286.20" r="5.62" fill="#D03A35"/>
<text class="lg" x="1442.00" y="293.00">Mollusk</text>
<polygon points="1421.50,299.70 1428.95,312.10 1414.05,312.10" fill="#6F9F58"/>
<text class="lg" x="1442.00" y="314.60">Rotifer</text>
</g>
</svg>
</body></html>
